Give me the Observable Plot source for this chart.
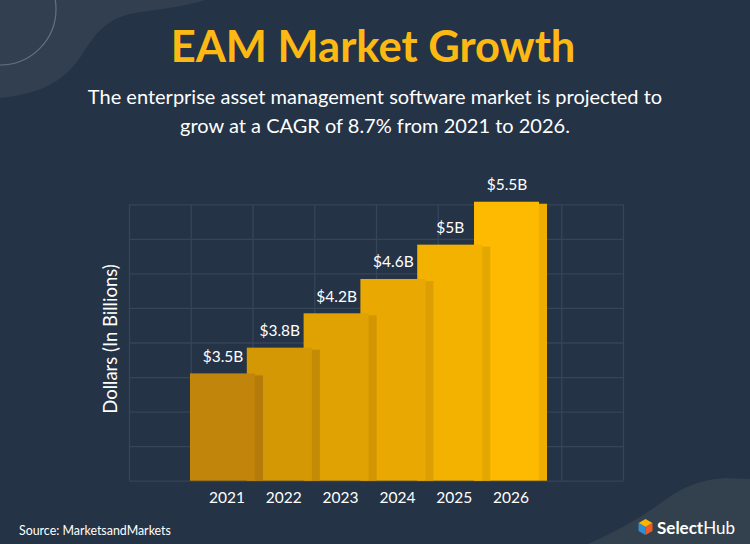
<!DOCTYPE html>
<html>
<head>
<meta charset="utf-8">
<script src="https://cdn.jsdelivr.net/npm/d3@7"></script>
<script src="https://cdn.jsdelivr.net/npm/@observablehq/plot@0.6"></script>
<style>
  html, body { margin: 0; padding: 0; background: #243346; }
  #wrap { position: relative; width: 750px; height: 544px; overflow: hidden; background: #243346; font-family: Lato, "Open Sans", sans-serif; }
  #bg, #chart { position: absolute; left: 0; top: 0; }
  #chart svg { background: transparent; overflow: visible; }
</style>
</head>
<body>
<div id="wrap">
  <svg id="bg" width="750" height="544" xmlns="http://www.w3.org/2000/svg">
    <path d="M0,0 H205 C180,8 150,10 130,14 C105,20 95,35 85,50 C70,75 50,93 0,98 Z" fill="#313f50"/>
    <circle cx="0" cy="9" r="56" fill="none" stroke="#66717f" stroke-width="1.2"/>
    <path d="M588,544 C620,530 645,515 665,500 C685,486 700,480 725,478 L750,479 V544 Z" fill="#33414f"/>
    <text x="373" y="62" text-anchor="middle" font-family="Lato" font-weight="700" font-size="43.5" fill="#fdb913">EAM Market Growth</text>
    <text x="375" y="104" text-anchor="middle" font-family="Lato" font-size="20" fill="#ffffff">The enterprise asset management software market is projected to</text>
    <text x="375" y="133" text-anchor="middle" font-family="Lato" font-size="20" fill="#ffffff">grow at a CAGR of 8.7% from 2021 to 2026.</text>
    <text transform="translate(117,339) rotate(-90)" text-anchor="middle" font-family="Lato" font-size="18.5" fill="#ffffff">Dollars (In Billions)</text>
    <text x="19" y="535" font-family="Lato" font-size="12.4" fill="#ffffff">Source: MarketsandMarkets</text>
    <g transform="translate(645.5,527)">
      <polygon points="0,-8 7,-4 0,0 -7,-4" fill="#f7b500"/>
      <polygon points="-7,-4 0,0 0,8 -7,4" fill="#2b8fd6"/>
      <polygon points="7,-4 7,4 0,8 0,0" fill="#ef5a24"/>
    </g>
    <text x="657" y="534" font-family="Lato" font-size="17" fill="#ffffff"><tspan font-weight="700">Select</tspan><tspan>Hub</tspan></text>
  </svg>
  <div id="chart"></div>
</div>
<script>
// ---- data ----
const years = [2021, 2022, 2023, 2024, 2025, 2026];
const values = [3.5, 3.8, 4.2, 4.6, 5.0, 5.5];
const valueLabels = ["$3.5B", "$3.8B", "$4.2B", "$4.6B", "$5B", "$5.5B"];
const frontColors = ["#c2850b", "#d49805", "#e0a103", "#e9a902", "#f3b200", "#fdba00"];
const sideColors  = ["#b57b0a", "#c48b06", "#d29504", "#dc9e02", "#e4a600", "#edae01"];

const rows = years.map((year, i) => ({
  year, value: values[i], label: valueLabels[i], front: frontColors[i], side: sideColors[i]
}));

// scales
const Y_MIN = 2.25, Y_MAX = 5.47;
const X_MIN = 2019.354, X_MAX = 2028.051;
const HALF = 0.572;   // half bar width (in x units)
const DEPTH = 0.141;  // 3D side depth (in x units)
const gridColor = "#364558";

const yTicks = d3.range(9).map(k => Y_MIN + k * (Y_MAX - Y_MIN) / 8);
const xTicks = d3.range(9).map(k => X_MIN + k * (X_MAX - X_MIN) / 8);

const chart = Plot.plot({
  width: 750,
  height: 544,
  marginTop: 204.3,
  marginBottom: 63.3,
  marginLeft: 129,
  marginRight: 127,
  style: { background: "transparent", fontFamily: "Lato" },
  x: { domain: [X_MIN, X_MAX], axis: null },
  y: { domain: [Y_MIN, Y_MAX], axis: null },
  color: { type: "identity" },
  marks: [
    Plot.ruleY(yTicks, { stroke: gridColor, strokeWidth: 1.3 }),
    Plot.ruleX(xTicks, { stroke: gridColor, strokeWidth: 1.3 }),
    Plot.rect(rows.slice().reverse(), {
      x1: d => d.year - HALF, x2: d => d.year + HALF,
      y1: () => Y_MIN, y2: "value", fill: "front"
    }),
    Plot.rect(rows, {
      x1: d => d.year + HALF, x2: d => d.year + HALF + DEPTH,
      y1: () => Y_MIN, y2: "value", fill: "side", insetTop: 2
    }),
    Plot.text(rows, {
      x: "year", y: "value", text: "label", dy: -17,
      fill: "#ffffff", fontSize: 15.5, fontFamily: "Lato"
    }),
    Plot.text(rows, {
      x: "year", y: () => Y_MIN, text: d => String(d.year), dy: 17, dx: 4,
      fill: "#ffffff", fontSize: 15.5, fontFamily: "Lato"
    })
  ]
});
document.getElementById("chart").appendChild(chart);
</script>
</body>
</html>
